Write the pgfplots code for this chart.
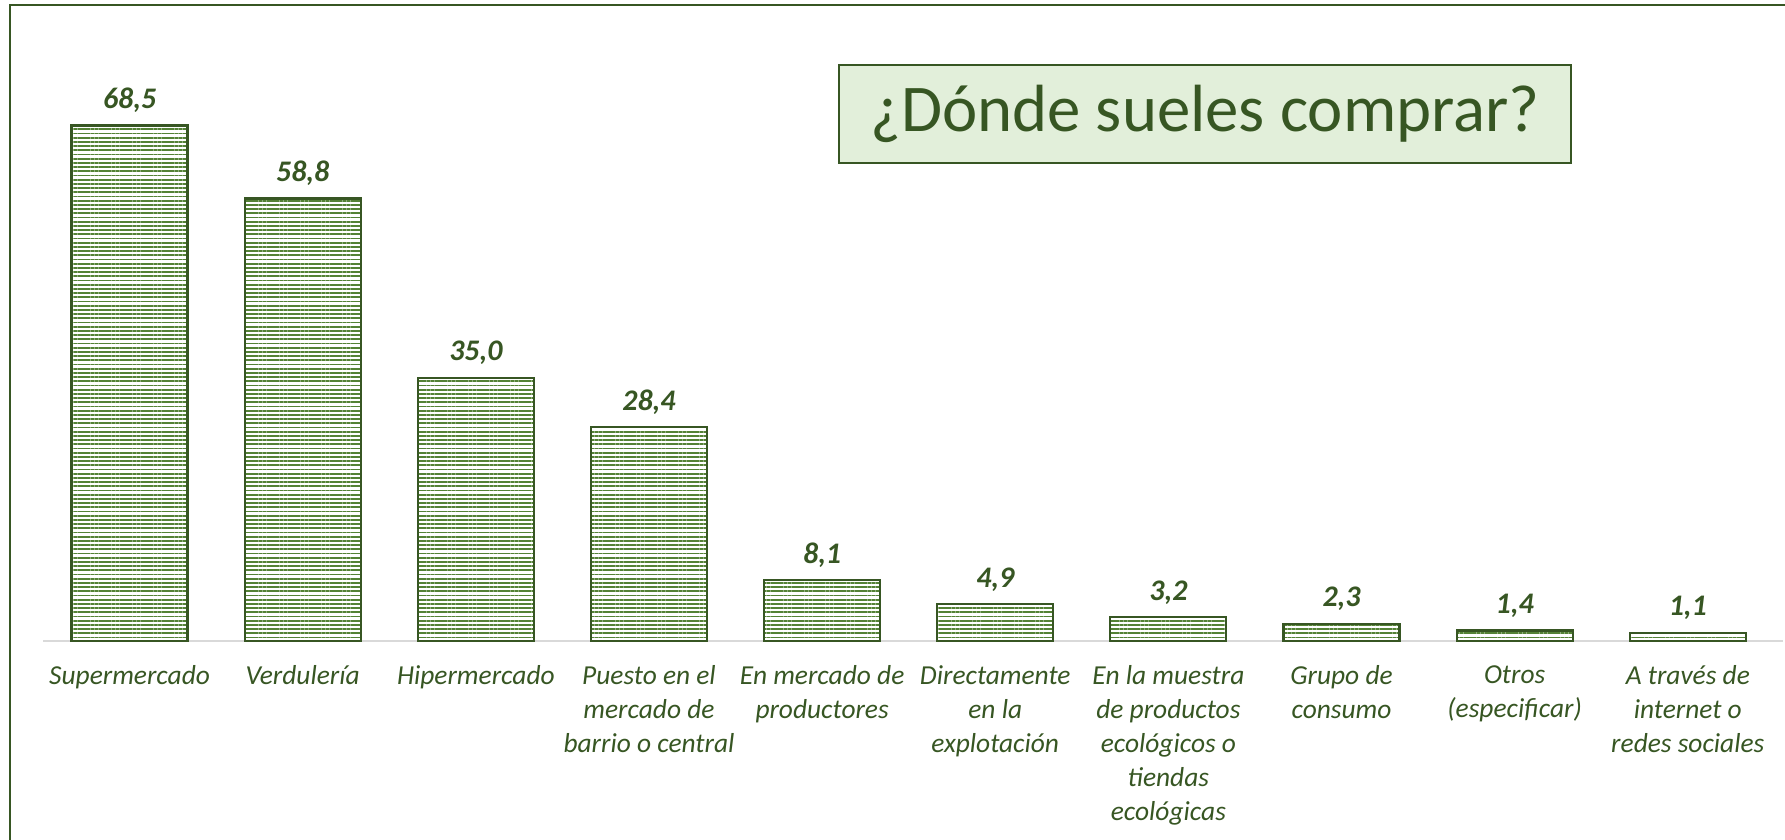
\documentclass[border=0pt]{standalone}
\usepackage{fontspec}
\setmainfont{Carlito}
\usepackage{pgfplots}
\pgfplotsset{compat=1.18}
\usetikzlibrary{patterns.meta}
\definecolor{dg}{HTML}{375623}
\definecolor{mg}{HTML}{548235}
\definecolor{lg}{HTML}{E2EFDA}
\definecolor{axgray}{HTML}{D9D9D9}
\begin{document}
\begin{tikzpicture}[x=1mm,y=1mm]
\path[use as bounding box] (0,0) rectangle (178.5,83.9);
\draw[dg, line width=0.25mm] (1,-2) -- (1,83.4) -- (181,83.4);
\begin{axis}[
 at={(4.3mm,19.8mm)}, anchor=south west,
 scale only axis, width=174mm, height=60.2mm,
 xmin=-0.5, xmax=9.55, ymin=0, ymax=80,
 axis x line=bottom, axis y line=none,
 x axis line style={-, draw=axgray, line width=0.2mm},
 xtick=data, major tick length=0pt,
 xticklabels={{Supermercado}, {Verdulería}, {Hipermercado}, {Puesto en el\\mercado de\\barrio o central}, {En mercado de\\productores}, {Directamente\\en la\\explotación}, {En la muestra\\de productos\\ecológicos o\\tiendas\\ecológicas}, {Grupo de\\consumo}, {Otros\\(especificar)}, {A través de\\internet o\\redes sociales}},
 xticklabel style={font=\fontsize{7.8}{9.7}\selectfont\itshape, text=dg, align=center, anchor=north, yshift=-1.2mm},
 ybar, bar width=0.67,
 nodes near coords={\pgfmathprintnumber[fixed,fixed zerofill,precision=1,use comma,assume math mode=true]{\pgfplotspointmeta}},
 every node near coord/.append style={font=\fontsize{8.5}{10}\selectfont\bfseries\itshape, text=dg},
]
\addplot[draw=dg, line width=0.22mm, pattern={Lines[angle=0,distance=0.42mm,line width=0.18mm]}, pattern color=mg] coordinates {(0,68.5) (1,58.8) (2,35.0) (3,28.4) (4,8.1) (5,4.9) (6,3.2) (7,2.3) (8,1.4) (9,1.1)};
\end{axis}
\node[draw=dg, line width=0.2mm, fill=lg, minimum width=73.2mm, minimum height=9.8mm, inner sep=0pt, font=\fontsize{19}{22}\selectfont, text=dg] at (120.5,72.5) {¿Dónde sueles comprar?};
\end{tikzpicture}
\end{document}
